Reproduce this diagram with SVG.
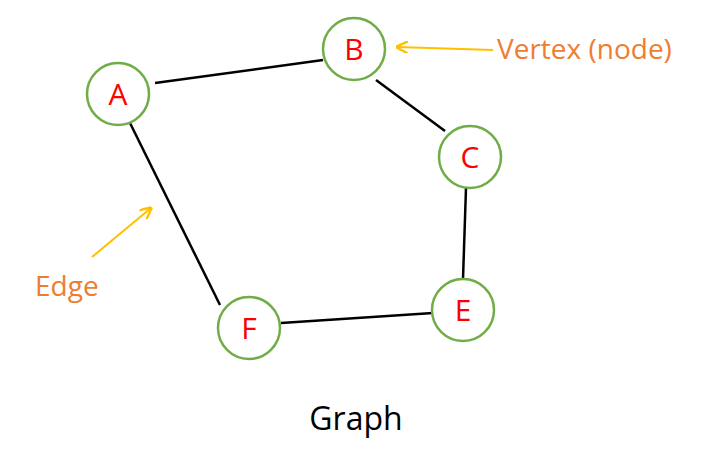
<svg xmlns="http://www.w3.org/2000/svg" width="712" height="458" viewBox="0 0 712 458">
<style>
.n{fill:#fff;stroke:#70AD47;stroke-width:2.5}
.l{fill:#F00;font-family:"Open Sans",sans-serif;font-size:30px;text-anchor:middle}
.e{stroke:#000;stroke-width:2.5}
.a{stroke:#FFC000;stroke-width:2;fill:none}
.o{fill:#ED7D31;font-family:"Open Sans",sans-serif;font-size:28px}
</style>
<defs><marker id="m" viewBox="0 0 10 10" refX="9" refY="5" markerWidth="12" markerHeight="12" markerUnits="userSpaceOnUse" orient="auto"><path d="M0,0L10,5L0,10" fill="none" stroke="#FFC000" stroke-width="2"/></marker></defs>
<rect width="712" height="458" fill="#fff"/>
<g id="edges">
<line class="e" x1="155" y1="83" x2="323" y2="60"/>
<line class="e" x1="376" y1="80" x2="445" y2="131"/>
<line class="e" x1="466" y1="188" x2="463" y2="279"/>
<line class="e" x1="433" y1="313" x2="281" y2="323"/>
<line class="e" x1="130" y1="123" x2="220" y2="305"/>
<line class="a" x1="493" y1="50" x2="397" y2="47" marker-end="url(#m)"/>
<line class="a" x1="92" y1="257" x2="151" y2="208" marker-end="url(#m)"/>
</g>
<g id="A"><circle class="n" cx="118" cy="94" r="31"/><text class="l" x="118" y="105">A</text></g>
<g id="B"><circle class="n" cx="354" cy="49" r="31"/><text class="l" x="354" y="60">B</text></g>
<g id="C"><circle class="n" cx="470" cy="157" r="31"/><text class="l" x="470" y="168">C</text></g>
<g id="E"><circle class="n" cx="463" cy="310" r="31"/><text class="l" x="463" y="321">E</text></g>
<g id="F"><circle class="n" cx="249" cy="328" r="31"/><text class="l" x="249" y="339">F</text></g>
<text class="o" x="497" y="59">Vertex (node)</text>
<text class="o" x="35" y="296">Edge</text>
<text x="356" y="430" font-family="Open Sans,sans-serif" font-size="32" text-anchor="middle">Graph</text>
</svg>
